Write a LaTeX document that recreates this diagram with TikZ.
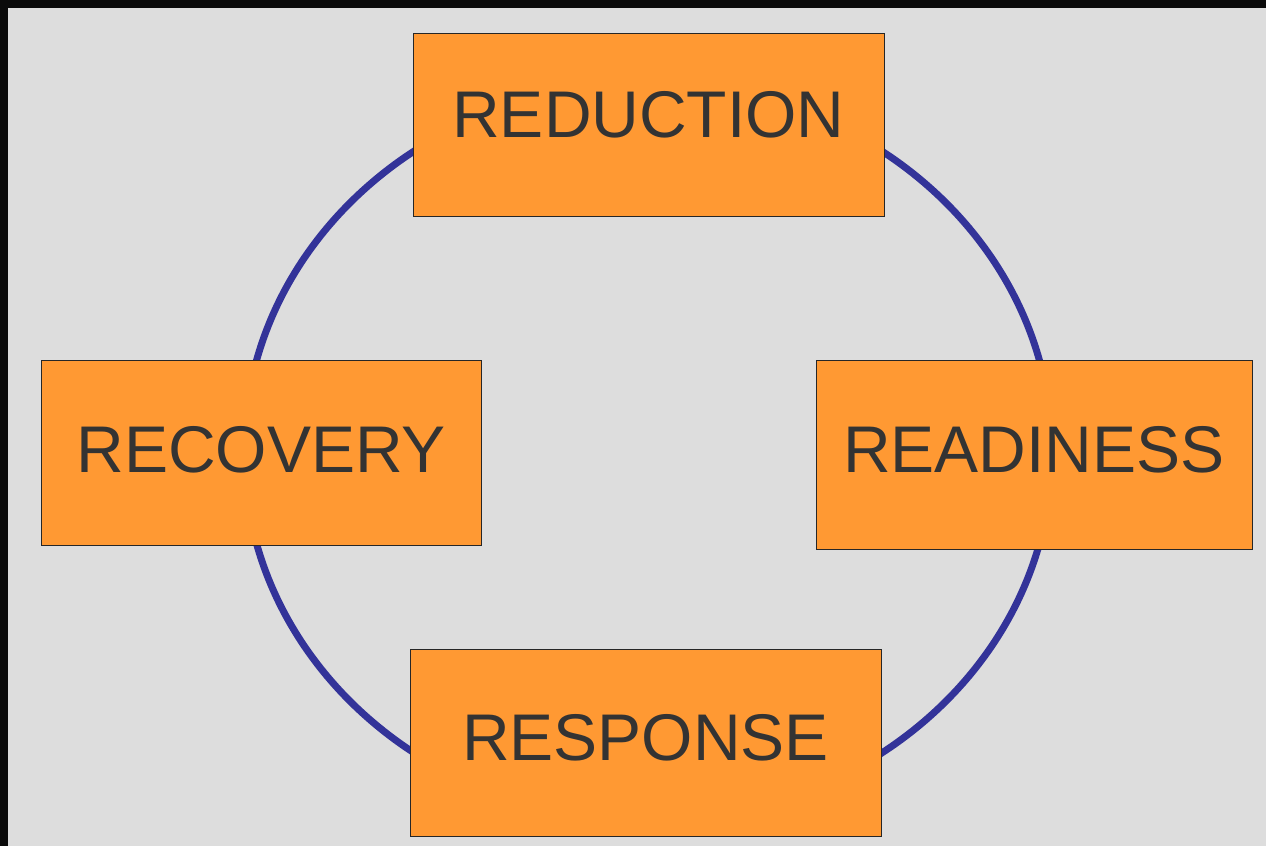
\documentclass[tikz,border=0pt]{standalone}
\usepackage{fontspec}
\setmainfont{Liberation Sans}
\definecolor{frame}{HTML}{0A0A0A}
\definecolor{slide}{HTML}{DDDDDD}
\definecolor{boxfill}{HTML}{FF9933}
\definecolor{ring}{HTML}{333399}
\definecolor{label}{HTML}{333333}
\tikzset{
  phase/.style={draw=black!85, line width=0.5pt, fill=boxfill, text=label,
    font=\fontsize{33}{33}\selectfont, inner sep=0pt}
}

\begin{document}
\begin{tikzpicture}[x=0.5pt, y=-0.5pt]
    \fill[frame] (0,0) rectangle (1266,846);
    \fill[slide] (8,8) rectangle (1266,846);
    \useasboundingbox (0,0) rectangle (1266,846);
    % the ring behind the four boxes
    \draw[ring, line width=3.5pt] (648,452) ellipse [x radius=202pt, y radius=184.5pt];
    \node[phase, minimum width=235.5pt, minimum height=91.5pt, text depth=10pt]
        (reduction) at (648.5,124.5) {REDUCTION};
    \node[phase, minimum width=218pt, minimum height=94.5pt, text depth=5.5pt]
        (readiness) at (1034,454.5) {READINESS};
    \node[phase, minimum width=235.5pt, minimum height=93.5pt, text depth=5.5pt]
        (response) at (645.5,742.5) {RESPONSE};
    \node[phase, minimum width=220pt, minimum height=92.5pt, text depth=3.5pt]
        (recovery) at (261,452.5) {RECOVERY};
\end{tikzpicture}
\end{document}
